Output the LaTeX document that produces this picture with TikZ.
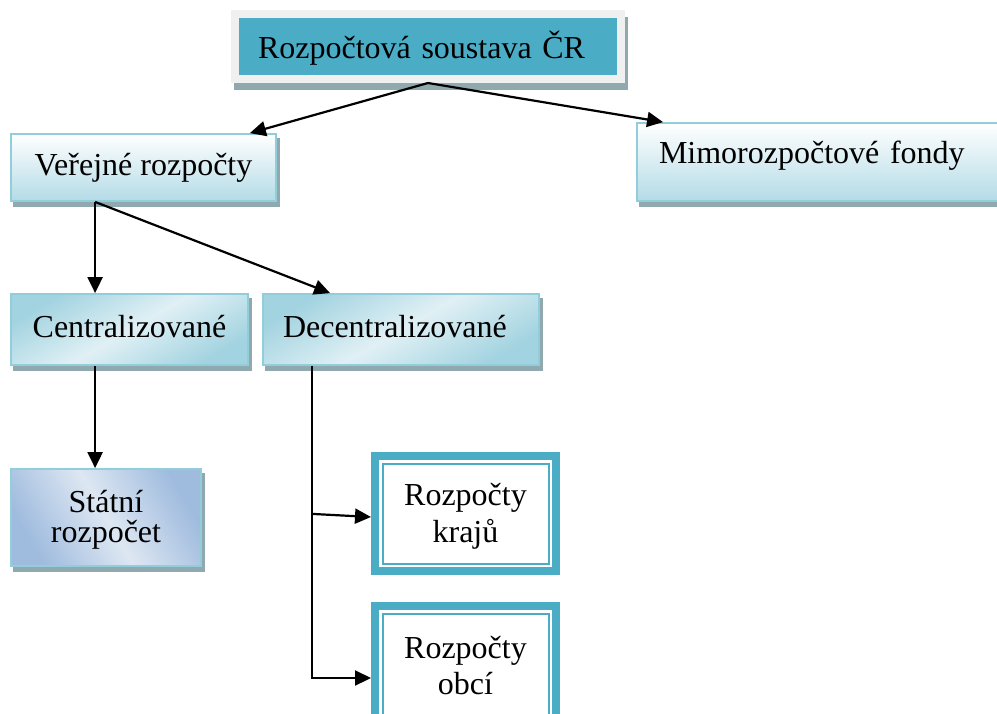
\documentclass[tikz,border=0pt]{standalone}
\usepackage{fontspec}
\setmainfont{Liberation Serif}
\usetikzlibrary{arrows.meta,calc}
\definecolor{teal5}{HTML}{4BACC6}
\definecolor{lb}{HTML}{92CDDC}
\definecolor{shd}{HTML}{8FA9AE}
\definecolor{gbot}{HTML}{B3DBE6}
\definecolor{cedge}{HTML}{A2D3E0}
\definecolor{cmid}{HTML}{E0F0F5}
\definecolor{sedge}{HTML}{9FBBDE}
\definecolor{smid}{HTML}{DDE7F2}
\definecolor{framec}{HTML}{F0F0F0}
\pgfdeclarelayer{bg}
\pgfsetlayers{bg,main}
\newcommand\tl[2]{\rule[-#2pt]{0pt}{\dimexpr#1pt+#2pt\relax}}
\begin{document}
\begin{tikzpicture}[x=1pt,y=-1pt,
  every node/.style={font=\fontsize{32}{30}\selectfont, inner sep=0pt},
  lbox/.style={rectangle, draw=lb, line width=1.8pt, outer sep=0.9pt},
  vgrad/.style={top color=white, bottom color=gbot},
  cgrad/.style={top color=cedge, bottom color=cedge, middle color=cmid, shading angle=30},
  sgrad/.style={top color=sedge, bottom color=sedge, middle color=smid, shading angle=-60},
  tbox/.style={rectangle, fill=teal5, draw=framec, line width=8pt, outer sep=4pt},
  dbox/.style={rectangle, fill=white, draw=teal5, line width=8pt, outer sep=4pt},
  oneline/.style={text height=22pt, text depth=7pt},
  arr/.style={draw=black, line width=2.2pt, -{Triangle[length=16pt,width=15pt]}},
  shadowbox/.style={fill=shd}
]
\useasboundingbox (0,0) rectangle (997,713);

\node[tbox, minimum width=386pt, minimum height=65pt, text width=340pt, align=left,
      text height=30pt, text depth=7pt] (top) at (428,46.5) {Rozpočtová soustava ČR};

\node[lbox, vgrad, oneline, minimum width=265pt, minimum height=67pt] (ver) at (143.5,167.5) {Veřejné rozpočty};

\node[lbox, vgrad, minimum width=365pt, minimum height=78pt, text width=321pt, align=left,
      text height=9pt, text depth=7pt] (mim) at (819.5,162) {Mimorozpočtové fondy};

\node[lbox, cgrad, oneline, minimum width=237pt, minimum height=71pt] (cen) at (129.5,329.5) {Centralizované};

\node[lbox, cgrad, oneline, minimum width=276pt, minimum height=71pt, text width=236pt, align=left] (dec) at (401,329.5) {Decentralizované};

\node[lbox, sgrad, minimum width=190pt, minimum height=97pt, align=center] (sta) at (106,517.5)
  {\tl{27}{3}Státní\\\tl{22}{8}rozpočet};

\node[dbox, minimum width=181pt, minimum height=115pt, align=center,
      font=\fontsize{32}{37}\selectfont] (kra) at (465.5,513.5)
  {\tl{30}{0}Rozpočty\\krajů\tl{0}{10}};

\node[dbox, minimum width=181pt, minimum height=124pt, align=center,
      font=\fontsize{32}{36}\selectfont] (obc) at (465.5,668)
  {\tl{26}{0}Rozpočty\\obcí\tl{0}{10}};

% inner thin frames
\draw[teal5, line width=2pt] ([shift={(11.5,11.5)}]kra.north west) rectangle ([shift={(-11.5,-11.5)}]kra.south east);
\draw[teal5, line width=2pt] ([shift={(11.5,11.5)}]obc.north west) rectangle ([shift={(-11.5,-11.5)}]obc.south east);

% shadows
\begin{pgfonlayer}{bg}
  \fill[shadowbox] ([shift={(3,7)}]top.north west) rectangle ([shift={(3,7)}]top.south east);
  \foreach \n in {ver,mim,cen,dec,sta}
    \fill[shadowbox] ([shift={(3,5)}]\n.north west) rectangle ([shift={(3,5)}]\n.south east);
\end{pgfonlayer}

% connectors
\draw[arr] (top.south) -- ($(ver.north east)+(-27,0)$);
\draw[arr] (top.south) -- ($(mim.north west)+(27,0)$);
\coordinate (vs) at ($(ver.south west)+(85,0)$);
\draw[arr] (vs) -- ($(cen.north west)+(85,0)$);
\draw[arr] (vs) -- ($(dec.north west)+(68,0)$);
\draw[arr] ($(cen.south west)+(85,0)$) -- ($(sta.north west)+(85,0)$);
\coordinate (d0) at ($(dec.south west)+(50,0)$);
\coordinate (d1) at ($(d0)+(0,148)$);
\coordinate (oe) at ([yshift=-10pt]obc.west);
\draw[arr] (d0) |- (oe);
\draw[arr] (d1) -- ([yshift=-3.5pt]kra.west);
\end{tikzpicture}
\end{document}
